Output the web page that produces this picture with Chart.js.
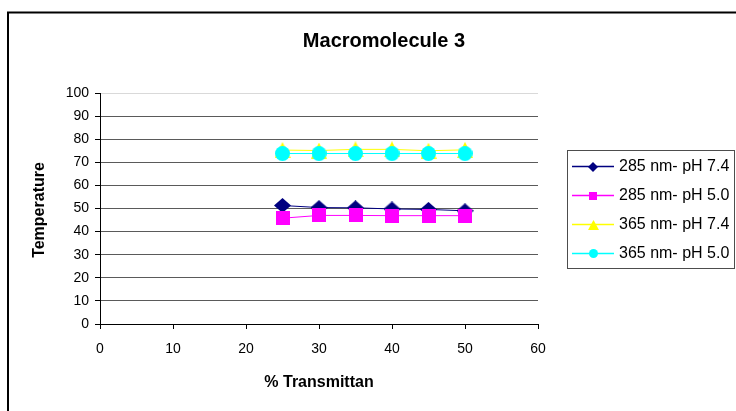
<!DOCTYPE html>
<html>
<head>
<meta charset="utf-8">
<script src="https://cdn.jsdelivr.net/npm/chart.js@4.4.0/dist/chart.umd.min.js"></script>
<style>
  html, body { margin: 0; padding: 0; background: #fff; }
  canvas { display: block; }
</style>
</head>
<body>
<canvas id="c" width="736" height="411"></canvas>
<script>
// ---- data ----
const chartTitle = 'Macromolecule 3';
const xAxisTitle = '% Transmittan';
const yAxisTitle = 'Temperature';
const xValues = [25, 30, 35, 40, 45, 50];
const seriesNames = ['285 nm- pH 7.4', '285 nm- pH 5.0', '365 nm- pH 7.4', '365 nm- pH 5.0'];
const s285ph74 = [51.3, 50.4, 50.3, 49.8, 49.6, 49.0];
const s285ph50 = [45.8, 47.0, 47.0, 46.9, 46.9, 46.9];
const s365ph74 = [75.3, 75.1, 75.6, 75.6, 75.0, 75.4];
const s365ph50 = [73.8, 73.8, 73.8, 73.8, 73.8, 73.8];
const xTicks = [0, 10, 20, 30, 40, 50, 60];
const yTicks = [0, 10, 20, 30, 40, 50, 60, 70, 80, 90, 100];

const FONT = "'Liberation Sans', Arial, sans-serif";
const colors = ['#000080', '#FF00FF', '#FFFF00', '#00FFFF'];

// ---- marker images ----
function makeMarker(kind, w, h, color) {
  const c = document.createElement('canvas');
  c.width = w; c.height = h;
  const g = c.getContext('2d');
  g.fillStyle = color;
  g.beginPath();
  if (kind === 'diamond') {
    g.moveTo(w / 2, 0); g.lineTo(w, h / 2); g.lineTo(w / 2, h); g.lineTo(0, h / 2); g.closePath();
  } else if (kind === 'square') {
    g.rect(0, 0, w, h);
  } else if (kind === 'triangle') {
    g.moveTo(w / 2, 0); g.lineTo(w, h); g.lineTo(0, h); g.closePath();
  } else {
    g.arc(w / 2, h / 2, w / 2, 0, Math.PI * 2);
  }
  g.fill();
  return c;
}
const kinds = ['diamond', 'square', 'triangle', 'circle'];
const bigSizes = [[17, 15], [14, 14], [16, 16], [15, 15]];
const smallSizes = [[10, 10], [8, 8], [11, 10], [9, 9]];
const bigMarkers = kinds.map((k, i) => makeMarker(k, bigSizes[i][0], bigSizes[i][1], colors[i]));
const smallMarkers = kinds.map((k, i) => makeMarker(k, smallSizes[i][0], smallSizes[i][1], colors[i]));

const allSeries = [s285ph74, s285ph50, s365ph74, s365ph50];
const datasets = allSeries.map((vals, i) => ({
  label: seriesNames[i],
  data: xValues.map((x, j) => ({ x: x, y: vals[j] })),
  showLine: true,
  borderColor: colors[i],
  backgroundColor: colors[i],
  borderWidth: 1,
  pointStyle: bigMarkers[i],
  pointRadius: 5,
  pointHoverRadius: 5,
  order: 4 - i
}));

const decor = {
  id: 'decor',
  afterDraw(chart) {
    const ctx = chart.ctx;
    ctx.save();
    // frame
    ctx.strokeStyle = '#000';
    ctx.lineWidth = 2;
    ctx.beginPath();
    ctx.moveTo(8, 420); ctx.lineTo(8, 12.5); ctx.lineTo(740, 12.5);
    ctx.stroke();
    // title
    ctx.fillStyle = '#000';
    ctx.textAlign = 'center';
    ctx.textBaseline = 'middle';
    ctx.font = 'bold 20px ' + FONT;
    ctx.fillText(chartTitle, 384, 41);
    // axis titles
    ctx.font = 'bold 16px ' + FONT;
    ctx.fillText(xAxisTitle, 319, 383);
    ctx.save();
    ctx.translate(40, 210);
    ctx.rotate(-Math.PI / 2);
    ctx.fillText(yAxisTitle, 0, 0);
    ctx.restore();
    // legend
    ctx.lineWidth = 1;
    ctx.strokeStyle = '#4d4d4d';
    ctx.strokeRect(567.5, 150.5, 167, 118);
    const rows = [166, 195, 224, 253];
    ctx.font = '16px ' + FONT;
    ctx.textAlign = 'left';
    chart.data.datasets.forEach((ds, i) => {
      const y = rows[i];
      ctx.strokeStyle = colors[i];
      ctx.lineWidth = 1.5;
      ctx.beginPath();
      ctx.moveTo(572, y + 0.5); ctx.lineTo(614, y + 0.5);
      ctx.stroke();
      const m = smallMarkers[i];
      ctx.drawImage(m, Math.round(593 - m.width / 2), Math.round(y + 0.5 - m.height / 2));
      ctx.fillStyle = '#000';
      ctx.fillText(ds.label, 619, y + 1);
    });
    ctx.restore();
  }
};

new Chart(document.getElementById('c'), {
  type: 'scatter',
  data: { datasets: datasets },
  plugins: [decor],
  options: {
    responsive: false,
    animation: false,
    events: [],
    layout: { padding: { left: 0, top: 93, right: 198, bottom: 0 } },
    plugins: { legend: { display: false }, tooltip: { enabled: false }, title: { display: false } },
    scales: {
      x: {
        type: 'linear',
        min: 0, max: 60,
        afterBuildTicks: (s) => { s.ticks = xTicks.map(v => ({ value: v })); },
        afterFit: (s) => { s.height = 87; },
        grid: { drawOnChartArea: false, drawTicks: true, tickLength: 5, tickColor: '#000' },
        border: { display: true, color: '#000', width: 1 },
        ticks: { color: '#000', font: { family: FONT, size: 14 }, padding: 12, maxRotation: 0 }
      },
      y: {
        type: 'linear',
        min: 0, max: 100,
        afterBuildTicks: (s) => { s.ticks = yTicks.map(v => ({ value: v })); },
        afterFit: (s) => { s.width = 100; },
        grid: {
          color: (c) => (c.tick && c.tick.value === 100) ? '#d9d9d9' : '#5a5a5a',
          drawTicks: true, tickLength: 5, tickColor: '#000'
        },
        border: { display: true, color: '#000', width: 1 },
        ticks: { color: '#000', font: { family: FONT, size: 14 }, padding: 6 }
      }
    }
  }
});
</script>
</body>
</html>
